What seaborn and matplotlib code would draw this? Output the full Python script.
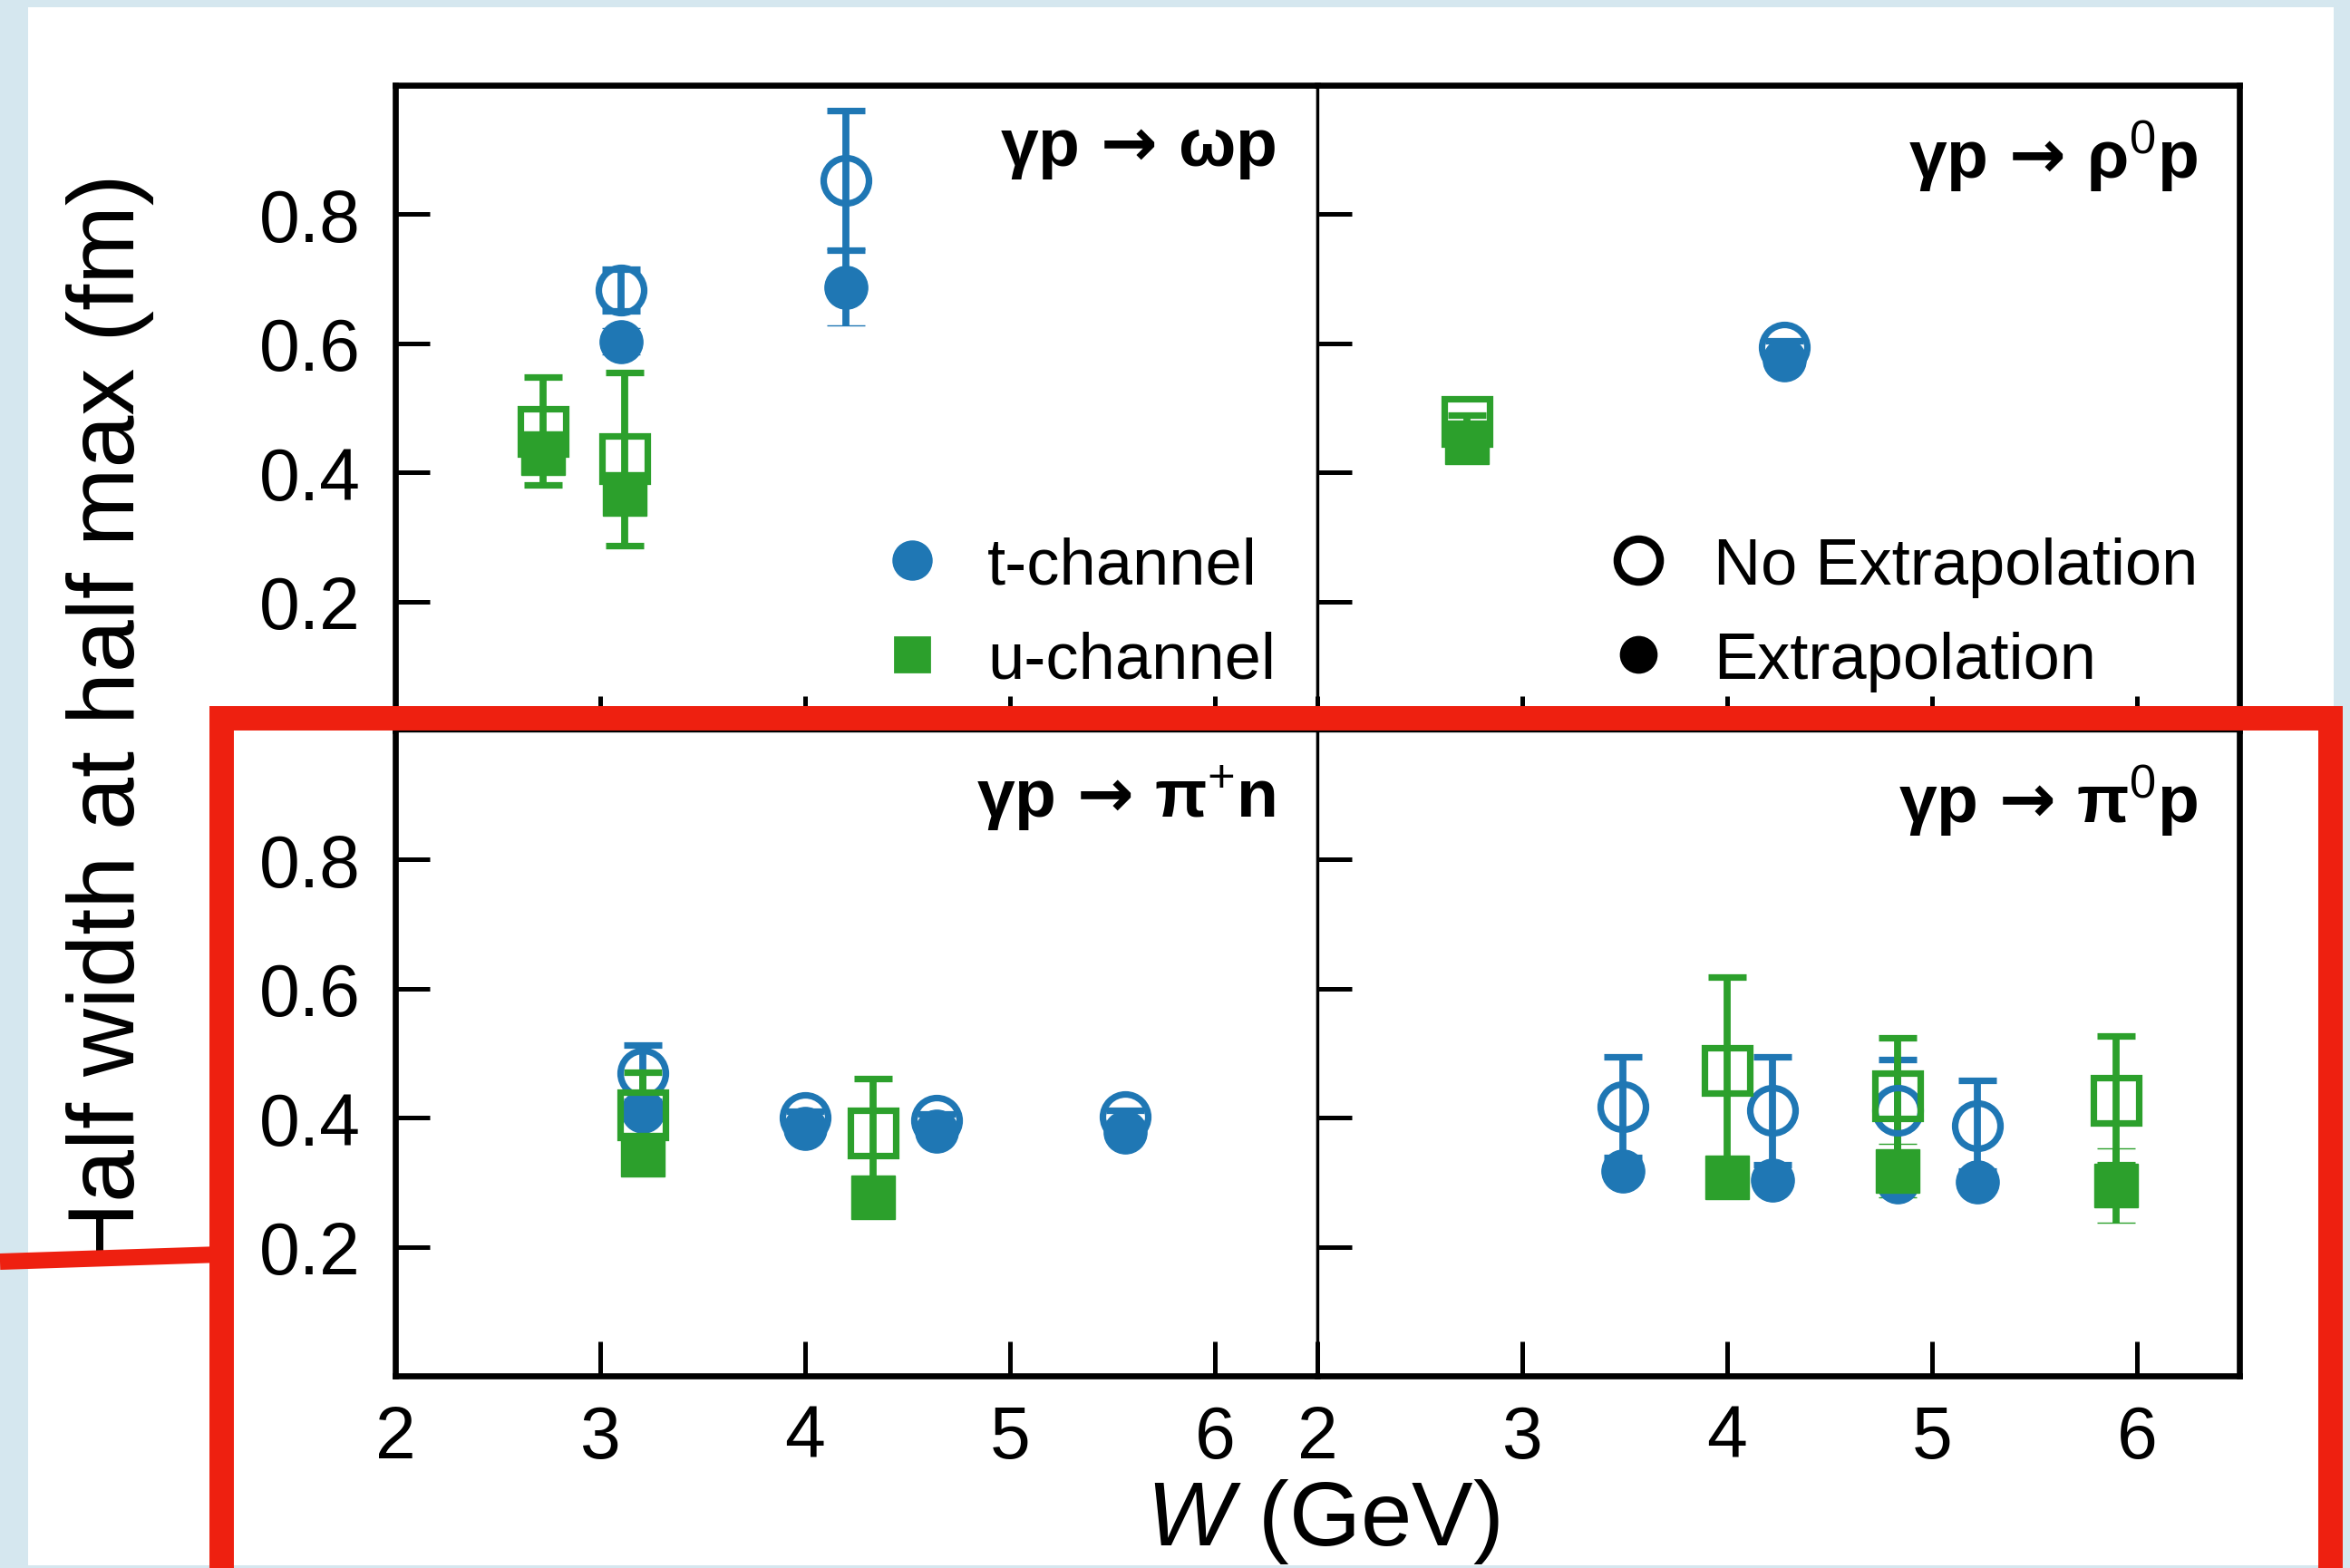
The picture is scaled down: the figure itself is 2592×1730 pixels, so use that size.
import matplotlib
matplotlib.use('Agg')
import matplotlib.pyplot as plt
from matplotlib.patches import Rectangle
from matplotlib.lines import Line2D
import seaborn as sns

# --- data: W (GeV) and half width at half max (fm) ---
# gamma p -> omega p
w_t_omega = [3.10, 4.20]
noext_t_omega = [0.683, 0.853]
noext_t_omega_err = [0.032, 0.108]
ext_t_omega = [0.603, 0.687]
ext_t_omega_err = [0.02, 0.059]
w_u_omega = [2.72, 3.12]
noext_u_omega = [0.464, 0.421]
noext_u_omega_err = [0.084, 0.134]
ext_u_omega = [0.430, 0.367]
ext_u_omega_err = [0.02, 0.02]

# gamma p -> rho0 p
w_t_rho = [4.28]
noext_t_rho = [0.594]
noext_t_rho_err = [0.01]
ext_t_rho = [0.575]
ext_t_rho_err = [0.01]
w_u_rho = [2.73]
noext_u_rho = [0.479]
noext_u_rho_err = [0.01]
ext_u_rho = [0.447]
ext_u_rho_err = [0.01]

# gamma p -> pi+ n
w_t_pip = [3.21, 4.00, 4.64, 5.56]
noext_t_pip = [0.469, 0.400, 0.396, 0.402]
noext_t_pip_err = [0.044, 0.01, 0.01, 0.01]
ext_t_pip = [0.410, 0.383, 0.379, 0.378]
ext_t_pip_err = [0.01, 0.01, 0.01, 0.01]
w_u_pip = [3.21, 4.33]
noext_u_pip = [0.404, 0.377]
noext_u_pip_err = [0.066, 0.083]
ext_u_pip = [0.343, 0.276]
ext_u_pip_err = [0.01, 0.01]

# gamma p -> pi0 p
w_t_pi0 = [3.49, 4.22, 4.83, 5.22]
noext_t_pi0 = [0.417, 0.411, 0.411, 0.388]
noext_t_pi0_err = [0.078, 0.084, 0.079, 0.070]
ext_t_pi0 = [0.317, 0.304, 0.300, 0.301]
ext_t_pi0_err = [0.01, 0.01, 0.01, 0.01]
w_u_pi0 = [4.00, 4.83, 5.90]
noext_u_pi0 = [0.473, 0.434, 0.427]
noext_u_pi0_err = [0.145, 0.090, 0.100]
ext_u_pi0 = [0.307, 0.318, 0.295]
ext_u_pi0_err = [0.02, 0.042, 0.058]

arrow = r'$\,\mathsf{\rightarrow}\,$'
titles = ['γp' + arrow + 'ωp', 'γp' + arrow + r'ρ$^{0}$p',
          'γp' + arrow + r'π$^{+}$n', 'γp' + arrow + r'π$^{0}$p']
xticks = [2, 3, 4, 5, 6]
yticks = [0.2, 0.4, 0.6, 0.8]

sns.set_theme(style='ticks')
plt.rcParams['font.family'] = ['Liberation Sans', 'DejaVu Sans']
plt.rcParams['text.color'] = 'black'
plt.rcParams['mathtext.fontset'] = 'custom'
plt.rcParams['mathtext.rm'] = 'Liberation Sans'
plt.rcParams['mathtext.it'] = 'Liberation Sans:italic'
plt.rcParams['mathtext.bf'] = 'Liberation Sans:bold'
plt.rcParams['mathtext.sf'] = 'DejaVu Sans:bold'

pal = sns.color_palette('tab10')
blue, green = pal[0], pal[2]
red = '#ee2010'

fig, axes = plt.subplots(2, 2, figsize=(12.96, 8.655), dpi=200)
fig.patch.set_facecolor('#d5e7ef')
fig.subplots_adjust(left=0.1682, right=0.9529, bottom=0.1225, top=0.9451,
                    wspace=0, hspace=0)
fig.add_artist(Rectangle((31 / 2592, 1 - 1728 / 1731), (2574 - 31) / 2592,
                         (1728 - 9) / 1731, fc='white', ec='none',
                         transform=fig.transFigure, zorder=-1))

panels = [
    (axes[0, 0], (w_t_omega, noext_t_omega, noext_t_omega_err, ext_t_omega, ext_t_omega_err),
     (w_u_omega, noext_u_omega, noext_u_omega_err, ext_u_omega, ext_u_omega_err)),
    (axes[0, 1], (w_t_rho, noext_t_rho, noext_t_rho_err, ext_t_rho, ext_t_rho_err),
     (w_u_rho, noext_u_rho, noext_u_rho_err, ext_u_rho, ext_u_rho_err)),
    (axes[1, 0], (w_t_pip, noext_t_pip, noext_t_pip_err, ext_t_pip, ext_t_pip_err),
     (w_u_pip, noext_u_pip, noext_u_pip_err, ext_u_pip, ext_u_pip_err)),
    (axes[1, 1], (w_t_pi0, noext_t_pi0, noext_t_pi0_err, ext_t_pi0, ext_t_pi0_err),
     (w_u_pi0, noext_u_pi0, noext_u_pi0_err, ext_u_pi0, ext_u_pi0_err)),
]

ebkw = dict(ls='none', elinewidth=2.8, capsize=7.5, capthick=4.5)

for i, (ax, tdat, udat) in enumerate(panels):
    for (w, yn, en, ye, ee), col, mk in [(tdat, blue, 'o'), (udat, green, 's')]:
        ax.errorbar(w, yn, yerr=en, fmt=mk, color=col, ms=18, mfc='none',
                    mec=col, mew=2.6, **ebkw)
        ax.errorbar(w, ye, yerr=ee, fmt=mk, color=col, ms=17, mfc=col,
                    mec=col, mew=0.5, **ebkw)
    ax.set_xlim(2, 6.5)
    ax.set_ylim(0, 1.0)
    ax.set_xticks(xticks)
    ax.set_yticks(yticks)
    ax.set_xticklabels([str(t) for t in xticks])
    ax.set_yticklabels([f'{t:.1f}' for t in yticks])
    ax.tick_params(direction='in', length=13.7, width=1.8, labelsize=29,
                   color='black', labelcolor='black')
    ax.tick_params(axis='x', pad=11)
    ax.tick_params(axis='y', pad=13.7)
    row, colm = divmod(i, 2)
    if row == 0:
        ax.tick_params(axis='x', labelbottom=False)
    if colm == 1:
        ax.tick_params(axis='y', labelleft=False)
    for s in ax.spines.values():
        s.set_color('black')
        s.set_linewidth(2.4)
    ax.spines['right' if colm == 0 else 'left'].set_linewidth(1.2)
    ax.spines['bottom' if row == 0 else 'top'].set_linewidth(1.2)
    ax.set_facecolor('white')
    ax.text(0.955, 0.95, titles[i], transform=ax.transAxes, ha='right',
            va='top', fontsize=27, fontweight='bold', color='black')

legkw = dict(loc='lower right', bbox_to_anchor=(0.955, 0.061), frameon=False,
             fontsize=26, handlelength=1.0, handletextpad=0.65,
             labelspacing=0.51, borderpad=0, borderaxespad=0)
h1 = [Line2D([], [], ls='', marker='o', color=blue, ms=15),
      Line2D([], [], ls='', marker='s', color=green, ms=14)]
axes[0, 0].legend(h1, ['t-channel', 'u-channel'], **legkw)
h2 = [Line2D([], [], ls='', marker='o', mfc='none', mec='black', mew=3, ms=17),
      Line2D([], [], ls='', marker='o', color='black', ms=14)]
axes[0, 1].legend(h2, ['No Extrapolation', 'Extrapolation'], **legkw)

fig.text(0.047, 0.540, 'Half width at half max (fm)', rotation=90,
         ha='center', va='center', fontsize=37.5, color='black')
fig.text(0.563, 0.015, '$W$ (GeV)', ha='center', va='baseline', fontsize=36.5,
         color='black')

# red highlight box and pointer line
fig.add_artist(Rectangle((244 / 2592, 1 - 1732 / 1731), (2570 - 244) / 2592,
                         (1732 - 793) / 1731, fill=False, ec=red, lw=9.7,
                         transform=fig.transFigure, zorder=10))
fig.add_artist(Line2D([0, 244 / 2592], [1 - 1393 / 1731, 1 - 1385 / 1731],
                      color=red, lw=6.5, transform=fig.transFigure, zorder=10,
                      solid_capstyle='butt'))

fig.savefig('out.png', dpi=200, facecolor=fig.get_facecolor())
